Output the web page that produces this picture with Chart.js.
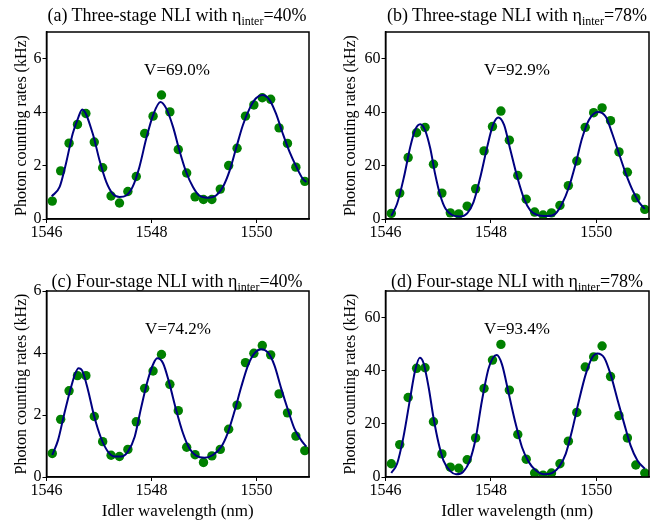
<!DOCTYPE html>
<html>
<head>
<meta charset="utf-8">
<script src="https://cdn.jsdelivr.net/npm/chart.js@4.4.0/dist/chart.umd.min.js"></script>
<style>
  body { margin: 0; background: #fff; font-family: "Liberation Serif", "Times New Roman", serif; }
  #page { position: relative; width: 661px; height: 522px; overflow: hidden; }
  canvas { position: absolute; }
  .title { position: absolute; font-size: 18px; white-space: nowrap; transform: translate(-50%, -50%); color: #000; }
  .title sub { font-size: 12px; vertical-align: -4px; line-height: 0; }
  .vis { position: absolute; font-size: 17px; white-space: nowrap; transform: translate(-50%, -50%); color: #000; }
</style>
</head>
<body>
<div id="page">
  <canvas id="chartA" width="330" height="260" style="left:0;top:0"></canvas>
  <canvas id="chartB" width="331" height="260" style="left:330px;top:0"></canvas>
  <canvas id="chartC" width="330" height="262" style="left:0;top:260px"></canvas>
  <canvas id="chartD" width="331" height="262" style="left:330px;top:260px"></canvas>

  <div class="title" style="left:177px;top:15px">(a) Three-stage NLI with η<sub>inter</sub>=40%</div>
  <div class="title" style="left:517px;top:15px">(b) Three-stage NLI with η<sub>inter</sub>=78%</div>
  <div class="title" style="left:177px;top:281px">(c) Four-stage NLI with η<sub>inter</sub>=40%</div>
  <div class="title" style="left:517px;top:281px">(d) Four-stage NLI with η<sub>inter</sub>=78%</div>

  <div class="vis" style="left:177px;top:70px">V=69.0%</div>
  <div class="vis" style="left:517px;top:70px">V=92.9%</div>
  <div class="vis" style="left:178px;top:329px">V=74.2%</div>
  <div class="vis" style="left:517px;top:329px">V=93.4%</div>
</div>
<script>
// Measured idler wavelengths (nm), same for all four panels
const wavelengths = [1546.11, 1546.27, 1546.43, 1546.59, 1546.75, 1546.91, 1547.07, 1547.23, 1547.39, 1547.55,
    1547.71, 1547.87, 1548.03, 1548.19, 1548.35, 1548.51, 1548.67, 1548.83, 1548.99, 1549.15,
    1549.31, 1549.47, 1549.63, 1549.79, 1549.95, 1550.11, 1550.27, 1550.43, 1550.59, 1550.75, 1550.92];

// Photon counting rates (kHz)
const ratesA = [0.67, 1.80, 2.84, 3.54, 3.95, 2.88, 1.92, 0.86, 0.60, 1.03, 1.59, 3.20, 3.85, 4.64, 4.01, 2.60,
    1.72, 0.83, 0.73, 0.73, 1.12, 2.00, 2.65, 3.85, 4.27, 4.54, 4.48, 3.41, 2.83, 1.94, 1.41];
const ratesB = [2.1, 9.7, 23.0, 32.3, 34.3, 20.5, 9.7, 2.3, 1.9, 4.8, 11.3, 25.5, 34.6, 40.4, 29.5, 16.3,
    7.4, 2.6, 1.5, 2.3, 5.1, 12.5, 21.7, 34.3, 39.8, 41.6, 36.8, 25.1, 17.5, 7.9, 3.6];
const ratesC = [0.76, 1.86, 2.78, 3.27, 3.27, 1.95, 1.14, 0.70, 0.66, 0.89, 1.78, 2.86, 3.42, 3.95, 2.99, 2.14,
    0.96, 0.72, 0.47, 0.68, 0.89, 1.54, 2.32, 3.69, 3.99, 4.24, 3.94, 2.68, 2.07, 1.32, 0.85];
const ratesD = [5.0, 12.2, 29.9, 40.9, 41.1, 20.8, 8.7, 3.7, 3.3, 6.5, 14.7, 33.3, 44.0, 49.9, 32.7, 16.0,
    6.7, 1.5, 0.7, 1.5, 5.0, 13.5, 24.3, 41.4, 45.2, 49.3, 37.8, 23.1, 14.7, 4.5, 1.5];

// Fitted curves
const fitXA = [1546.10, 1546.25, 1546.37, 1546.50, 1546.60, 1546.68, 1546.88, 1547.01, 1547.14, 1547.26,
    1547.39, 1547.52, 1547.64, 1547.77, 1547.90, 1548.03, 1548.17, 1548.28, 1548.41, 1548.53,
    1548.66, 1548.79, 1548.91, 1549.07, 1549.23, 1549.36, 1549.49, 1549.61, 1549.74, 1549.87,
    1549.99, 1550.11, 1550.25, 1550.37, 1550.50, 1550.63, 1550.76, 1550.88, 1550.95];
const fitA = [0.85, 1.20, 2.07, 3.20, 3.77, 4.10, 3.20, 2.20, 1.38, 0.95,
    0.82, 0.88, 1.20, 1.95, 3.01, 3.89, 4.38, 4.14, 3.45, 2.58,
    1.76, 1.20, 0.88, 0.80, 0.88, 1.20, 1.82, 2.64, 3.51, 4.14,
    4.52, 4.64, 4.45, 3.95, 3.20, 2.51, 1.95, 1.51, 1.38];

const fitXB = [1546.11, 1546.22, 1546.35, 1546.47, 1546.56, 1546.66, 1546.75, 1546.85, 1546.94, 1547.04,
    1547.14, 1547.26, 1547.41, 1547.55, 1547.67, 1547.80, 1547.93, 1548.04, 1548.14, 1548.25,
    1548.37, 1548.50, 1548.63, 1548.75, 1548.88, 1549.07, 1549.23, 1549.35, 1549.48, 1549.61,
    1549.73, 1549.86, 1550.03, 1550.18, 1550.30, 1550.43, 1550.56, 1550.69, 1550.81, 1550.92];
const fitB = [1.2, 5.7, 15.7, 27.0, 33.3, 35.5, 33.3, 26.4, 17.0, 8.8,
    3.8, 1.5, 0.9, 2.1, 6.3, 15.7, 27.0, 35.2, 38.0, 35.2,
    25.8, 15.7, 7.5, 3.1, 1.5, 1.1, 2.1, 5.7, 11.9, 20.8,
    30.2, 37.1, 40.1, 38.3, 32.1, 24.5, 17.0, 10.7, 6.3, 3.8];

const fitXC = [1546.11, 1546.22, 1546.34, 1546.47, 1546.55, 1546.61, 1546.68, 1546.79, 1546.91, 1547.04,
    1547.17, 1547.30, 1547.42, 1547.55, 1547.68, 1547.80, 1547.93, 1548.04, 1548.11, 1548.22,
    1548.34, 1548.47, 1548.60, 1548.72, 1548.85, 1549.01, 1549.17, 1549.33, 1549.45, 1549.58,
    1549.71, 1549.84, 1549.96, 1550.09, 1550.22, 1550.34, 1550.47, 1550.60, 1550.72, 1550.85, 1550.95];
const fitC = [0.71, 1.19, 2.05, 2.91, 3.35, 3.51, 3.43, 2.81, 1.95, 1.25,
    0.82, 0.66, 0.66, 0.82, 1.30, 2.22, 3.13, 3.67, 3.83, 3.67,
    3.02, 2.16, 1.41, 0.93, 0.69, 0.62, 0.71, 0.98, 1.41, 2.11,
    2.91, 3.61, 3.99, 4.12, 4.01, 3.61, 2.86, 2.16, 1.57, 1.19, 0.98];

const fitXD = [1546.11, 1546.22, 1546.34, 1546.47, 1546.56, 1546.65, 1546.72, 1546.82, 1546.91, 1547.01,
    1547.10, 1547.23, 1547.34, 1547.47, 1547.60, 1547.71, 1547.83, 1547.96, 1548.11, 1548.21,
    1548.34, 1548.47, 1548.59, 1548.72, 1548.85, 1549.01, 1549.16, 1549.29, 1549.42, 1549.54,
    1549.67, 1549.80, 1549.92, 1550.02, 1550.15, 1550.27, 1550.40, 1550.53, 1550.65, 1550.78, 1550.92];
const fitD = [1.5, 5.0, 15.0, 29.9, 39.9, 44.9, 43.0, 33.6, 22.4, 12.5,
    6.2, 2.2, 1.0, 1.9, 6.2, 14.4, 28.7, 41.1, 45.9, 42.4,
    31.2, 20.0, 11.2, 5.6, 2.5, 1.0, 1.5, 3.7, 8.7, 17.5,
    28.7, 38.7, 44.9, 46.5, 44.9, 38.7, 29.3, 20.0, 11.9, 6.2, 3.1];

// Tick labels
const xTicks = [1546, 1548, 1550];
const yTicksLow = [0, 2, 4, 6];
const yTicksHigh = [0, 20, 40, 60];

const serif = '"Liberation Serif", "Times New Roman", serif';

// Draw the closed box round the plot area
const boxFrame = {
    id: 'boxFrame',
    afterDatasetsDraw(chart) {
        const { ctx, chartArea: a } = chart;
        ctx.save();
        ctx.strokeStyle = '#000';
        ctx.lineWidth = 1.5;
        ctx.strokeRect(a.left, a.top, a.right - a.left, a.bottom - a.top);
        ctx.restore();
    }
};

function toPoints(xs, ys) {
    return xs.map((x, i) => ({ x: x, y: ys[i] }));
}

function buildPanel(id, rates, fitX, fitY, yMax, yTicks, box) {
    return new Chart(document.getElementById(id), {
        type: 'scatter',
        data: {
            datasets: [{
                data: toPoints(fitX, fitY),
                showLine: true,
                borderColor: '#000080',
                borderWidth: 2,
                pointRadius: 0,
                cubicInterpolationMode: 'monotone',
                order: 0
            }, {
                data: toPoints(wavelengths, rates),
                backgroundColor: '#008000',
                borderWidth: 0,
                pointRadius: 4.7,
                order: 1
            }]
        },
        options: {
            responsive: false,
            animation: false,
            events: [],
            layout: { padding: { top: box.top, right: box.right, left: 0, bottom: 0 } },
            plugins: { legend: { display: false }, tooltip: { enabled: false } },
            scales: {
                x: {
                    type: 'linear',
                    min: 1546,
                    max: 1551,
                    afterBuildTicks: scale => { scale.ticks = xTicks.map(v => ({ value: v })); },
                    afterFit: scale => { scale.height = box.xHeight; },
                    grid: { drawOnChartArea: false, tickLength: 4, color: '#000' },
                    border: { color: '#000', width: 1.5 },
                    ticks: {
                        color: '#000',
                        font: { family: serif, size: 16 },
                        padding: 0,
                        maxRotation: 0,
                        callback: value => String(value)
                    },
                    title: {
                        display: box.xTitle,
                        text: 'Idler wavelength (nm)',
                        color: '#000',
                        font: { family: serif, size: 17 },
                        padding: { top: 0, bottom: 0 }
                    }
                },
                y: {
                    min: 0,
                    max: yMax,
                    afterBuildTicks: scale => { scale.ticks = yTicks.map(v => ({ value: v })); },
                    afterFit: scale => { scale.width = box.yWidth; },
                    grid: { drawOnChartArea: false, tickLength: 4, color: '#000' },
                    border: { color: '#000', width: 1.5 },
                    ticks: { color: '#000', font: { family: serif, size: 16 }, padding: 1, callback: value => String(value) },
                    title: {
                        display: true,
                        text: 'Photon counting rates (kHz)',
                        color: '#000',
                        font: { family: serif, size: 16 },
                        padding: { top: box.yTitlePad, bottom: 0 }
                    }
                }
            }
        },
        plugins: [boxFrame]
    });
}

buildPanel('chartA', ratesA, fitXA, fitA, 7, yTicksLow,
    { top: 32, right: 21, yWidth: 46.5, xHeight: 41, xTitle: false, yTitlePad: 12 });
buildPanel('chartB', ratesB, fitXB, fitB, 70, yTicksHigh,
    { top: 32, right: 12, yWidth: 55.5, xHeight: 41, xTitle: false, yTitlePad: 11 });
buildPanel('chartC', ratesC, fitXC, fitC, 6, yTicksLow,
    { top: 31, right: 21, yWidth: 46.5, xHeight: 45, xTitle: true, yTitlePad: 12 });
buildPanel('chartD', ratesD, fitXD, fitD, 70, yTicksHigh,
    { top: 31, right: 12, yWidth: 55.5, xHeight: 45, xTitle: true, yTitlePad: 11 });
</script>
</body>
</html>
